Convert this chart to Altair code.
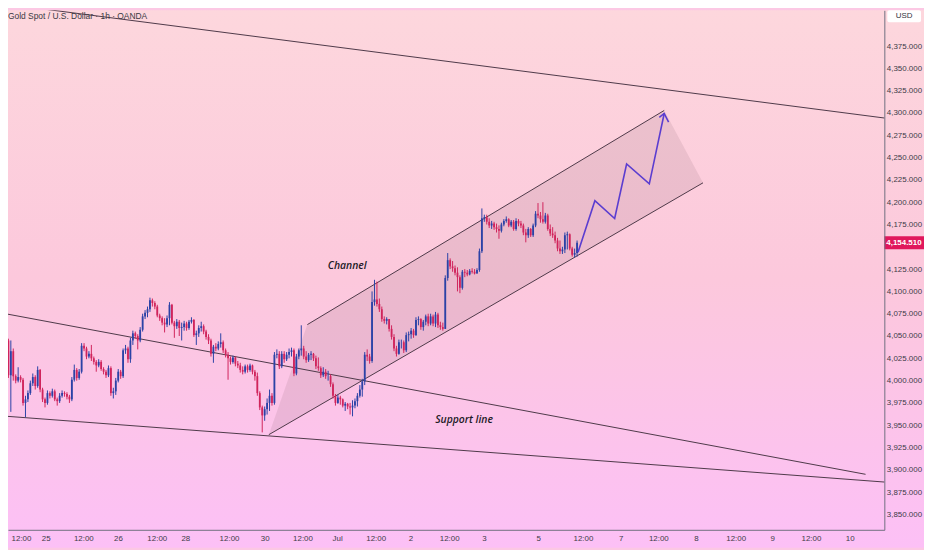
import json
import altair as alt
import pandas as pd
import numpy as np

# ---------------- data ----------------
first_open = 4076.0
closes = [4064, 4054, 4045, 4006, 4033, 4005, 4000, 4004, 4001, 3975,
          3979, 3986, 3997, 4004, 3994, 4012, 3990, 3979, 3975, 3986,
          3983, 3988, 3979, 3977, 3983, 3986, 3985, 3982, 3979, 4001,
          4012, 4003, 4010, 4039, 4036, 4027, 4030, 4025, 4021, 4017,
          4021, 4013, 4010, 4006, 4014, 3986, 3988, 4000, 4010, 4005,
          4034, 4036, 4024, 4045, 4053, 4050, 4045, 4057, 4072, 4076,
          4080, 4090, 4087, 4083, 4073, 4070, 4065, 4063, 4070, 4085,
          4065, 4061, 4066, 4059, 4060, 4064, 4059, 4066, 4068, 4051,
          4053, 4059, 4061, 4055, 4049, 4045, 4030, 4038, 4036, 4041,
          4043, 4034, 4029, 4025, 4021, 4026, 4019, 4017, 4012, 4010,
          4016, 4012, 4017, 4010, 4005, 3986, 3970, 3961, 3968, 3975,
          3983, 3975, 4029, 4030, 4016, 4030, 4024, 4029, 4032, 4034,
          4008, 4027, 4034, 4036, 4027, 4023, 4029, 4030, 4025, 4016,
          4014, 4006, 4010, 4005, 4005, 3996, 3983, 3975, 3981, 3979,
          3972, 3974, 3971, 3970, 3972, 3977, 3983, 3990, 3999, 4029,
          4027, 4022, 4088, 4091, 4086, 4080, 4069, 4067, 4069, 4058,
          4049, 4036, 4030, 4043, 4043, 4034, 4051, 4052, 4056, 4051,
          4068, 4069, 4060, 4066, 4072, 4064, 4072, 4064, 4074, 4062,
          4060, 4058, 4115, 4135, 4128, 4126, 4121, 4116, 4104, 4122,
          4121, 4119, 4123, 4122, 4120, 4124, 4145, 4182, 4183, 4178,
          4174, 4176, 4172, 4170, 4168, 4175, 4179, 4181, 4174, 4178,
          4170, 4179, 4176, 4174, 4166, 4163, 4170, 4163, 4174, 4187,
          4185, 4181, 4178, 4185, 4170, 4165, 4163, 4157, 4148, 4145,
          4147, 4163, 4164, 4148, 4141, 4143, 4154.51]
highs = [4078, 4065, 4056, 4047, 4045, 4036, 4007, 4015, 4006, 4003,
         3983, 3989, 4000, 4008, 4006, 4016, 4013, 3992, 3981, 3989,
         3988, 3991, 3990, 3981, 3986, 3989, 3988, 3987, 3984, 4004,
         4018, 4014, 4013, 4042, 4042, 4038, 4033, 4040, 4027, 4023,
         4024, 4023, 4015, 4012, 4017, 4016, 3992, 4003, 4013, 4012,
         4036, 4040, 4038, 4048, 4056, 4055, 4052, 4060, 4075, 4079,
         4083, 4093, 4092, 4089, 4085, 4075, 4072, 4070, 4073, 4088,
         4086, 4067, 4069, 4068, 4065, 4067, 4066, 4068, 4071, 4069,
         4056, 4062, 4066, 4063, 4057, 4052, 4047, 4040, 4042, 4044,
         4053, 4045, 4036, 4032, 4027, 4028, 4027, 4022, 4020, 4016,
         4018, 4018, 4019, 4018, 4012, 4009, 3988, 3972, 3971, 3980,
         3990, 3986, 4032, 4035, 4033, 4033, 4033, 4032, 4036, 4037,
         4036, 4030, 4036, 4062, 4039, 4033, 4031, 4033, 4031, 4028,
         4026, 4016, 4015, 4013, 4011, 4007, 3998, 3985, 3984, 3983,
         3980, 3976, 3975, 3975, 3978, 3980, 3986, 3995, 4002, 4032,
         4035, 4030, 4100, 4113, 4111, 4092, 4083, 4072, 4071, 4069,
         4062, 4052, 4039, 4046, 4046, 4045, 4054, 4055, 4059, 4058,
         4071, 4072, 4070, 4068, 4074, 4075, 4075, 4074, 4077, 4076,
         4066, 4065, 4118, 4143, 4137, 4134, 4129, 4127, 4118, 4124,
         4125, 4124, 4125, 4126, 4125, 4126, 4148, 4193, 4186, 4186,
         4182, 4179, 4178, 4176, 4174, 4177, 4181, 4184, 4182, 4180,
         4180, 4182, 4181, 4179, 4176, 4170, 4172, 4171, 4176, 4190,
         4199, 4189, 4200, 4188, 4187, 4175, 4172, 4167, 4160, 4157,
         4150, 4166, 4167, 4165, 4150, 4148, 4157]
lows = [4062, 4052, 4043, 4003, 3965, 4000, 3997, 3998, 3998, 3972,
        3959, 3976, 3984, 3994, 3990, 3992, 3987, 3976, 3970, 3973,
        3980, 3981, 3977, 3972, 3975, 3981, 3982, 3979, 3975, 3977,
        3999, 4000, 4001, 4008, 4033, 4024, 4025, 4022, 4018, 4010,
        4015, 4011, 4007, 4003, 4004, 3983, 3980, 3984, 3998, 4002,
        4003, 4030, 4020, 4020, 4040, 4047, 4035, 4043, 4055, 4069,
        4071, 4077, 4083, 4080, 4071, 4067, 4062, 4054, 4060, 4062,
        4063, 4048, 4058, 4050, 4045, 4056, 4056, 4057, 4064, 4049,
        4040, 4049, 4055, 4052, 4046, 4041, 4027, 4020, 4033, 4034,
        4037, 4031, 4026, 4001, 4018, 4019, 4016, 4014, 4009, 4007,
        4008, 4009, 4010, 4007, 4000, 3983, 3967, 3942, 3955, 3962,
        3966, 3972, 3973, 4025, 4013, 4014, 4020, 4022, 4025, 4027,
        4005, 4006, 4024, 4028, 4024, 4020, 4021, 4023, 4022, 4013,
        4011, 4003, 4004, 4002, 4000, 3993, 3980, 3972, 3974, 3973,
        3970, 3966, 3968, 3962, 3960, 3969, 3971, 3981, 3982, 3995,
        4022, 4019, 4020, 4084, 4083, 4077, 4066, 4064, 4063, 4055,
        4046, 4033, 4027, 4029, 4036, 4031, 4032, 4044, 4047, 4048,
        4050, 4062, 4057, 4056, 4062, 4061, 4062, 4061, 4060, 4059,
        4057, 4056, 4058, 4112, 4125, 4122, 4118, 4100, 4098, 4102,
        4116, 4117, 4118, 4120, 4119, 4120, 4122, 4143, 4178, 4175,
        4171, 4170, 4169, 4166, 4159, 4166, 4173, 4177, 4172, 4172,
        4168, 4168, 4173, 4171, 4163, 4155, 4160, 4161, 4161, 4172,
        4182, 4177, 4176, 4176, 4168, 4162, 4160, 4154, 4145, 4142,
        4142, 4143, 4147, 4146, 4139, 4138, 4139]

tick_pos = [4.1, 18.3, 33.7, 47.9, 63.8, 75.5, 93.4, 108.0, 123.5, 137.7,
            153.5, 167.7, 183.6, 197.8, 220.1, 238.4, 253.9, 269.3, 284.7,
            301.0, 316.0, 331.8, 347.7]
tick_labels = ["12:00", "25", "12:00", "26", "12:00", "28", "12:00", "30",
               "12:00", "Jul", "12:00", "2", "12:00", "3", "5", "12:00", "7",
               "12:00", "8", "12:00", "9", "12:00", "10"]
price_ticks = [3850, 3875, 3900, 3925, 3950, 3975, 4000, 4025, 4050, 4075,
               4100, 4125, 4175, 4200, 4225, 4250, 4275, 4300, 4325, 4350,
               4375]

# drawn trend lines (bar index, price)
line_names = ["top", "top", "mid", "mid", "bot", "bot",
              "chlo", "chlo", "chhi", "chhi"]
line_x = [-0.41, 363.1, -0.41, 354.2, -0.41, 363.1, 109.7, 287.6, 125.5, 271.7]
line_y = [4422.8, 4293.9, 4076.1, 3895.0, 3960.6, 3886.1,
          3939.4, 4221.7, 4062.8, 4302.8]

# channel shading polygon
chan_x = [109.7, 125.5, 271.7, 287.6]
chan_lo = [3939.4, 3964.5, 4196.5, 4221.7]
chan_hi = [3939.4, 4062.8, 4302.8, 4221.7]

# projected zig-zag path and arrow head
zig_x = [236.4, 243.3, 251.4, 256.3, 265.6, 271.7]
zig_y = [4143.9, 4201.7, 4181.7, 4242.8, 4220.6, 4299.4]
arrow_x = [269.7, 271.7, 273.5]
arrow_y = [4295.1, 4299.4, 4289.8]

notes = ["Channel", "Support line"]
note_x = [141.8, 189.7]
note_y = [4128.3, 3956.1]

last_price = 4154.51
title_text = "Gold Spot / U.S. Dollar · 1h · OANDA"

# ---------------- build tables ----------------
opens = [first_open] + closes[:-1]
df = pd.DataFrame({"i": np.arange(len(closes)), "open": opens, "close": closes,
                   "high": highs, "low": lows})
df["high"] = df[["high", "open", "close"]].max(axis=1)
df["low"] = df[["low", "open", "close"]].min(axis=1)
df["dir"] = np.where(df["close"] >= df["open"], "up", "down")
df["xl"] = df["i"] - 0.37
df["xr"] = df["i"] + 0.37

lines_df = pd.DataFrame({"name": line_names, "lx": line_x, "ly": line_y,
                         "k": list(range(len(line_x)))})
chan_df = pd.DataFrame({"cx": chan_x, "lo": chan_lo, "hi": chan_hi})
zig_df = pd.DataFrame({"zx": zig_x, "zy": zig_y, "k": list(range(len(zig_x)))})
arrow_df = pd.DataFrame({"zx": arrow_x, "zy": arrow_y, "k": list(range(len(arrow_x)))})
notes_df = pd.DataFrame({"t": notes, "nx": note_x, "ny": note_y})
tag_df = pd.DataFrame({"p": [last_price], "lo": [last_price - 7.4], "hi": [last_price + 7.4],
                       "t": [f"{last_price:,.3f}"]})
one = pd.DataFrame({"a": [0]})

# ---------------- scales / axes ----------------
W, H = 884, 524
RIGHT, BOTTOM = 40, 18
BLUE, RED = "#2b42a6", "#d0245c"
AX_FONT = "Liberation Sans"

xs = alt.Scale(domain=[2.84, 361.9], nice=False, zero=False)
ys = alt.Scale(domain=[3832.8, 4415.0], nice=False, zero=False)

label_expr = f"{json.dumps(tick_labels)}[indexof({json.dumps(tick_pos)}, datum.value)]"
xaxis = alt.Axis(values=tick_pos, labelExpr=label_expr, title=None, grid=False,
                 ticks=False, domainColor="#6f6f80", domainWidth=1,
                 labelColor="#3c3c48", labelFont=AX_FONT, labelFontSize=8,
                 labelPadding=5, labelOverlap=False, labelFlush=False, zindex=1,
                 labelAlign={"condition": {"test": "datum.value < 10", "value": "left"},
                             "value": "center"})
yaxis = alt.Axis(orient="right", values=price_ticks, format=",.3f", title=None,
                 grid=False, ticks=False, domainColor="#6f6f80", domainWidth=1,
                 labelColor="#3c3c48", labelFont=AX_FONT, labelFontSize=8,
                 labelPadding=2, labelOverlap=False, zindex=1)


def X(f):
    return alt.X(f, type="quantitative", scale=xs, axis=xaxis)


def Y(f):
    return alt.Y(f, type="quantitative", scale=ys, axis=yaxis)


# ---------------- layers ----------------
bg = alt.Chart(one).mark_rect(
    fill=alt.Gradient(gradient="linear", x1=0, y1=0, x2=0, y2=1,
                      stops=[alt.GradientStop(color="#fdd7dd", offset=0),
                             alt.GradientStop(color="#fcc8dc", offset=0.5),
                             alt.GradientStop(color="#fcc0f6", offset=1)])
).encode(x=alt.value(0), x2=alt.value(W + RIGHT), y=alt.value(0), y2=alt.value(H + BOTTOM))

chan = alt.Chart(chan_df).mark_area(color="#8a6670", opacity=0.15).encode(
    x=X("cx"), y=Y("lo"), y2="hi")

lines = alt.Chart(lines_df).mark_line(color="#4d3948", strokeWidth=1, clip=True).encode(
    x=X("lx"), y=Y("ly"), detail="name:N", order="k:Q")

cscale = alt.Scale(domain=["up", "down"], range=[BLUE, RED])
wicks = alt.Chart(df).mark_rule(strokeWidth=1, clip=True).encode(
    x=X("i"), y=Y("low"), y2="high",
    color=alt.Color("dir:N", scale=cscale, legend=None))
bodies = alt.Chart(df).mark_rect(clip=True).encode(
    x=X("xl"), x2="xr", y=Y("open"), y2="close",
    color=alt.Color("dir:N", scale=cscale, legend=None))

zig = alt.Chart(zig_df).mark_line(color="#5b3dd0", strokeWidth=1.6).encode(
    x=X("zx"), y=Y("zy"), order="k:Q")
arrow = alt.Chart(arrow_df).mark_line(color="#5b3dd0", strokeWidth=1.6).encode(
    x=X("zx"), y=Y("zy"), order="k:Q")

note_txt = alt.Chart(notes_df).mark_text(font="Open Sans", fontStyle="italic",
                                          fontWeight=600, fontSize=10.5,
                                          color="#1d1a26").encode(
    x=X("nx"), y=Y("ny"), text="t:N")

title = alt.Chart(one).mark_text(text=title_text, align="left", baseline="top",
                                 font="Liberation Sans", fontSize=8.5,
                                 color="#3a3a44").encode(
    x=alt.value(0), y=alt.value(2))

usd_box = alt.Chart(one).mark_rect(color="white", cornerRadius=2).encode(
    x=alt.value(W + 3), x2=alt.value(W + 37), y=alt.value(0), y2=alt.value(12))
usd_txt = alt.Chart(one).mark_text(text="USD", font=AX_FONT, fontSize=8,
                                   color="#333340", baseline="middle").encode(
    x=alt.value(W + 20), y=alt.value(6))

tag = alt.Chart(tag_df).mark_rect(color="#e0175c").encode(
    x=alt.value(W), x2=alt.value(W + RIGHT), y=Y("lo"), y2="hi")
tag_txt = alt.Chart(tag_df).mark_text(align="left", baseline="middle", font=AX_FONT,
                                      fontSize=8, fontWeight="bold",
                                      color="white").encode(
    x=alt.value(W + 2), y=Y("p"), text="t:N")

chart = alt.layer(bg, chan, lines, wicks, bodies, zig, arrow, note_txt, title,
                  usd_box, usd_txt, tag, tag_txt).properties(
    width=W, height=H,
    autosize=alt.AutoSizeParams(type="none"),
    padding={"left": 0, "top": 0, "right": RIGHT, "bottom": BOTTOM},
    background="#fcc8e4",
).configure_view(stroke=None)

chart.save("out.html", embed_options={"renderer": "svg", "actions": False})
